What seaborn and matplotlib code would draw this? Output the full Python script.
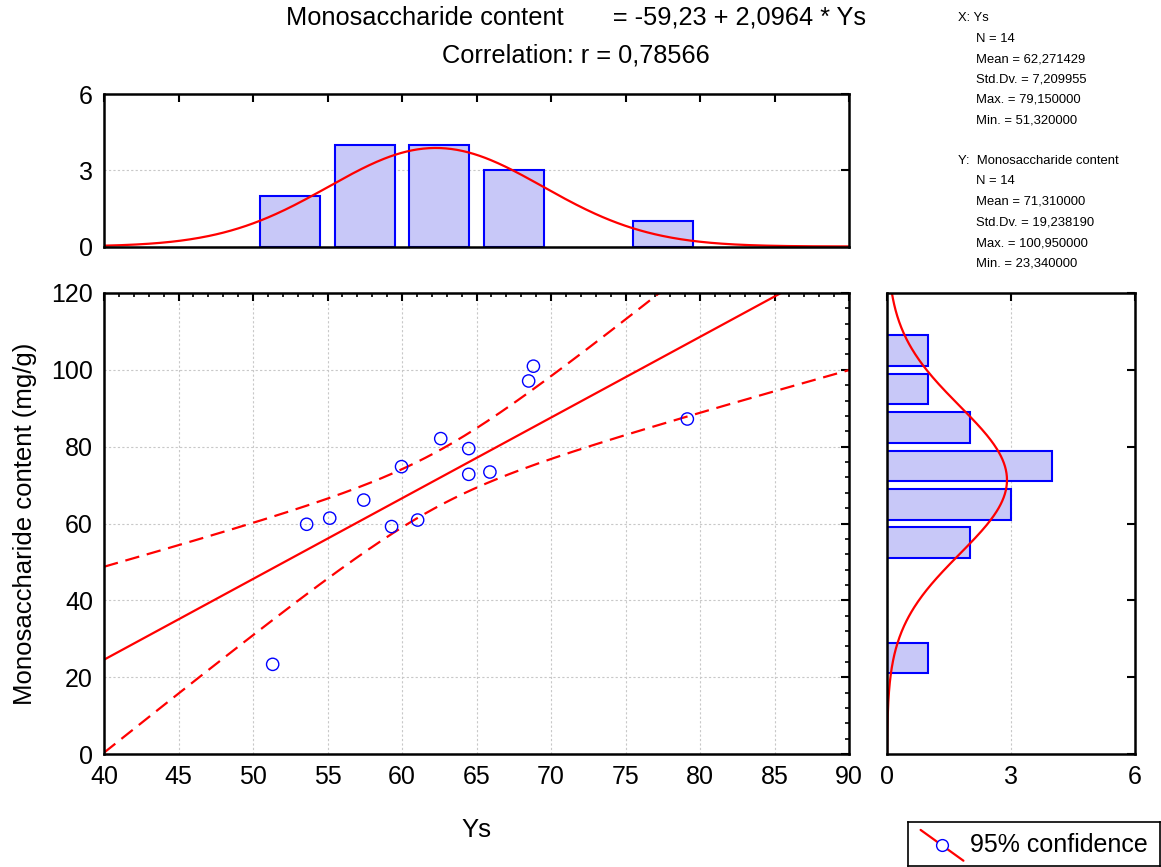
import numpy as np
import pandas as pd
import matplotlib
matplotlib.use("Agg")
import matplotlib.pyplot as plt
from matplotlib.ticker import MultipleLocator
import seaborn as sns

# ---- data ----
ys = [51.32, 53.60, 55.15, 57.43, 59.97, 59.30, 61.05, 62.60,
      64.48, 64.48, 65.90, 68.50, 68.82, 79.15]
mono = [23.34, 59.80, 61.40, 66.10, 74.80, 59.20, 60.90, 82.10,
        79.50, 72.80, 73.40, 97.10, 100.95, 87.20]

title1 = "Monosaccharide content       = -59,23 + 2,0964 * Ys"
title2 = "Correlation: r = 0,78566"
x_label = "Ys"
y_label = "Monosaccharide content (mg/g)"
stats_x = ["X: Ys", "N = 14", "Mean = 62,271429", "Std.Dv. = 7,209955",
           "Max. = 79,150000", "Min. = 51,320000"]
stats_y = ["Y:  Monosaccharide content", "N = 14", "Mean = 71,310000",
           "Std.Dv. = 19,238190", "Max. = 100,950000", "Min. = 23,340000"]
legend_label = "95% confidence"

x_bins = np.arange(40, 95, 5)
y_bins = np.arange(0, 130, 10)

df = pd.DataFrame({"Ys": ys, "Mono": mono})

sns.set_theme(style="white")
plt.rcParams["font.family"] = ["Liberation Sans", "DejaVu Sans"]
plt.rcParams["text.color"] = "black"
plt.rcParams["axes.labelcolor"] = "black"
plt.rcParams["xtick.color"] = "black"
plt.rcParams["ytick.color"] = "black"

W, H = 1161, 867
fig = plt.figure(figsize=(W / 100, H / 100), dpi=100)
ax = fig.add_axes([104 / W, 1 - 754 / H, (849 - 104) / W, (754 - 293) / H])
axt = fig.add_axes([104 / W, 1 - 246.5 / H, (849 - 104) / W, (246.5 - 94) / H])
axr = fig.add_axes([887 / W, 1 - 754 / H, (1135 - 887) / W, (754 - 293) / H])

bar_face = "#c8c8f8"
bar_edge = "#0000ff"
red = "#ff0000"
tick_fs = 18
dash = (0, (6.5, 3.5))

# ---- main scatter ----
ax.set_xlim(40, 90)
ax.set_ylim(0, 120)
x = np.asarray(ys)
y = np.asarray(mono)
n = len(x)
slope, intercept = np.polyfit(x, y, 1)
xg = np.linspace(40, 90, 400)
yfit = intercept + slope * xg
resid = y - (intercept + slope * x)
s = np.sqrt(np.sum(resid ** 2) / (n - 2))
sxx = np.sum((x - x.mean()) ** 2)
tval = 2.178813
half = tval * s * np.sqrt(1 / n + (xg - x.mean()) ** 2 / sxx)

sns.lineplot(x=xg, y=yfit, ax=ax, color=red, lw=1.6)
sns.lineplot(x=xg, y=yfit + half, ax=ax, color=red, lw=1.6, linestyle=dash)
sns.lineplot(x=xg, y=yfit - half, ax=ax, color=red, lw=1.6, linestyle=dash)
sns.scatterplot(data=df, x="Ys", y="Mono", ax=ax, marker="o", s=78,
                facecolor="none", edgecolor="#0000ff", linewidth=1.0, zorder=5)

ax.xaxis.set_major_locator(MultipleLocator(5))
ax.xaxis.set_minor_locator(MultipleLocator(1))
ax.yaxis.set_major_locator(MultipleLocator(20))
ax.yaxis.set_minor_locator(MultipleLocator(4))
ax.grid(True, which="major", color="#c8c8c8", linestyle=(0, (2, 2)), lw=0.8)
ax.tick_params(which="major", direction="in", top=True, right=True, length=6,
               width=1.5, labelsize=tick_fs, pad=8)
ax.tick_params(which="minor", direction="in", top=True, right=True, length=3,
               width=1.2)
ax.set_xlabel("")
ax.set_ylabel("")

# ---- top histogram ----
sns.histplot(x=ys, bins=x_bins, shrink=0.8, ax=axt, color=bar_face,
             edgecolor=bar_edge, linewidth=1.5, alpha=1)
for p in list(axt.patches):
    if p.get_height() == 0:
        p.remove()
xn = np.linspace(40, 90, 400)
mx, sx = x.mean(), x.std(ddof=1)
axt.plot(xn, n * 5 * np.exp(-0.5 * ((xn - mx) / sx) ** 2) / (sx * np.sqrt(2 * np.pi)),
         color=red, lw=1.6)
axt.set_xlim(40, 90)
axt.set_ylim(0, 6)
axt.set_yticks([0, 3, 6])
axt.xaxis.set_major_locator(MultipleLocator(5))
axt.tick_params(axis="x", labelbottom=False)
axt.tick_params(which="major", direction="in", top=True, right=True, length=6,
                width=1.5, labelsize=tick_fs, pad=8)
axt.yaxis.grid(True, color="#c8c8c8", linestyle=(0, (2, 2)), lw=0.8)
axt.set_axisbelow(True)
axt.set_xlabel("")
axt.set_ylabel("")

# ---- right histogram ----
sns.histplot(y=mono, bins=y_bins, shrink=0.8, ax=axr, color=bar_face,
             edgecolor=bar_edge, linewidth=1.5, alpha=1)
for p in list(axr.patches):
    if p.get_width() == 0:
        p.remove()
yn = np.linspace(0, 120, 400)
my, sy = y.mean(), y.std(ddof=1)
axr.plot(n * 10 * np.exp(-0.5 * ((yn - my) / sy) ** 2) / (sy * np.sqrt(2 * np.pi)), yn,
         color=red, lw=1.6)
axr.set_xlim(0, 6)
axr.set_ylim(0, 120)
axr.set_xticks([0, 3, 6])
axr.yaxis.set_major_locator(MultipleLocator(20))
axr.tick_params(axis="y", labelleft=False)
axr.tick_params(which="major", direction="in", top=True, right=True, length=6,
                width=1.5, labelsize=tick_fs, pad=8)
axr.xaxis.grid(True, color="#c8c8c8", linestyle=(0, (2, 2)), lw=0.8)
axr.set_axisbelow(True)
axr.set_xlabel("")
axr.set_ylabel("")

for a in (ax, axt, axr):
    for sp in a.spines.values():
        sp.set_visible(True)
        sp.set_color("black")
        sp.set_linewidth(1.8)

# ---- texts ----
fig.text(576 / W, 1 - 18 / H, title1, ha="center", va="center", fontsize=18.3)
fig.text(576 / W, 1 - 55 / H, title2, ha="center", va="center", fontsize=18.3)
fig.text(476 / W, 1 - 830 / H, x_label, ha="center", va="center", fontsize=18.5)
fig.text(25 / W, 1 - 524 / H, y_label, ha="center", va="center", fontsize=18.5,
         rotation=90)

ypos_x = [18, 38.5, 59, 79.5, 100, 120.5]
ypos_y = [161, 181.5, 202, 222.5, 243, 263.5]
for i, (t, yp) in enumerate(zip(stats_x, ypos_x)):
    fig.text((958 if i == 0 else 976) / W, 1 - yp / H, t, ha="left", va="center",
             fontsize=9.4)
for i, (t, yp) in enumerate(zip(stats_y, ypos_y)):
    fig.text((958 if i == 0 else 976) / W, 1 - yp / H, t, ha="left", va="center",
             fontsize=9.4)

# ---- legend box ----
axl = fig.add_axes([908 / W, 1 - 866 / H, (1160 - 908) / W, (866 - 822) / H])
axl.set_xlim(0, 1)
axl.set_ylim(0, 1)
axl.set_xticks([])
axl.set_yticks([])
for sp in axl.spines.values():
    sp.set_visible(True)
    sp.set_color("black")
    sp.set_linewidth(1.2)
axl.plot([0.05, 0.22], [0.82, 0.12], color=red, lw=1.6)
axl.plot([0.135], [0.47], marker="o", ms=8.5, mfc="white", mec="#0000ff", mew=1.0)
axl.text(0.245, 0.47, legend_label, ha="left", va="center", fontsize=18)

fig.savefig("out.png", dpi=100)
